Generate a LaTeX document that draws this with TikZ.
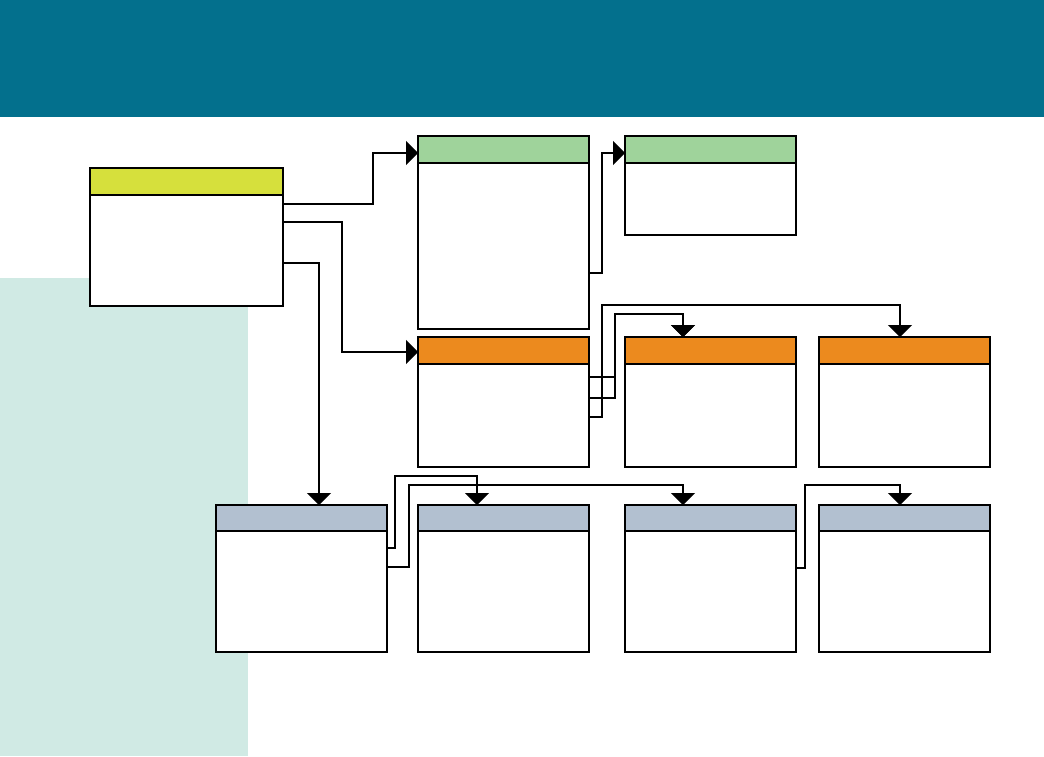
\documentclass[tikz,border=0pt]{standalone}
\usetikzlibrary{arrows.meta}
\definecolor{teal}{RGB}{3,112,141}
\definecolor{mint}{RGB}{208,234,228}
\definecolor{hyel}{RGB}{214,224,60}
\definecolor{hgrn}{RGB}{159,211,155}
\definecolor{horg}{RGB}{236,138,30}
\definecolor{hgry}{RGB}{178,192,208}
\tikzset{
  box/.style={draw=black, line width=1.8pt, fill=white, inner sep=0pt, outer sep=0pt, anchor=north west, minimum width=171pt},
  hdr/.style={draw=black, line width=1.8pt},
  conn/.style={draw=black, line width=1.5pt, -{Triangle[length=12pt,width=24pt]}},
  plain/.style={draw=black, line width=1.5pt},
}
\begin{document}
\begin{tikzpicture}[x=1pt,y=-1pt]
\useasboundingbox (0,0) rectangle (1044,756);
\fill[white] (0,0) rectangle (1044,756);
\fill[teal] (0,0) rectangle (1044,117);
\fill[mint] (0,278) rectangle (248,756);
% boxes
\node[box, minimum width=193pt, minimum height=138pt] (a) at (90,168) {};
\draw[hdr, fill=hyel] (a.north west) rectangle ([yshift=-27pt]a.north east);
\node[box, minimum height=193pt] (b1) at (418,136) {};
\draw[hdr, fill=hgrn] (b1.north west) rectangle ([yshift=-27pt]b1.north east);
\node[box, minimum height=99pt] (b2) at (625,136) {};
\draw[hdr, fill=hgrn] (b2.north west) rectangle ([yshift=-27pt]b2.north east);
\node[box, minimum height=130pt] (c1) at (418,337) {};
\draw[hdr, fill=horg] (c1.north west) rectangle ([yshift=-27pt]c1.north east);
\node[box, minimum height=130pt] (c2) at (625,337) {};
\draw[hdr, fill=horg] (c2.north west) rectangle ([yshift=-27pt]c2.north east);
\node[box, minimum height=130pt] (c3) at (819,337) {};
\draw[hdr, fill=horg] (c3.north west) rectangle ([yshift=-27pt]c3.north east);
\node[box, minimum height=147pt] (d1) at (216,505) {};
\draw[hdr, fill=hgry] (d1.north west) rectangle ([yshift=-26pt]d1.north east);
\node[box, minimum height=147pt] (d2) at (418,505) {};
\draw[hdr, fill=hgry] (d2.north west) rectangle ([yshift=-26pt]d2.north east);
\node[box, minimum height=147pt] (d3) at (625,505) {};
\draw[hdr, fill=hgry] (d3.north west) rectangle ([yshift=-26pt]d3.north east);
\node[box, minimum height=147pt] (d4) at (819,505) {};
\draw[hdr, fill=hgry] (d4.north west) rectangle ([yshift=-26pt]d4.north east);
% connectors
\draw[conn] ([yshift=-36pt]a.north east) -- ++(90,0) |- ([yshift=-17pt]b1.north west);
\draw[conn] ([yshift=-54pt]a.north east) -- ++(59,0) |- ([yshift=-15pt]c1.north west);
\draw[conn] ([yshift=-95pt]a.north east) -| ([xshift=17.5pt]d1.north);
\draw[conn] ([yshift=-137pt]b1.north east) -- ++(13,0) |- ([yshift=-17pt]b2.north west);
\draw[conn] ([yshift=-40pt]c1.north east) -- ++(26,0) -- ++(0,-63) -| ([xshift=-27.5pt]c2.north);
\draw[conn] ([yshift=-61pt]c1.north east) -- ++(26,0) -- ++(0,-84) -| ([xshift=-27.5pt]c2.north);
\draw[conn] ([yshift=-80pt]c1.north east) -- ++(13,0) -- ++(0,-112) -| ([xshift=-4.5pt]c3.north);
\draw[conn] ([yshift=-43pt]d1.north east) -- ++(8,0) -- ++(0,-72) -| ([xshift=-26.5pt]d2.north);
\draw[conn] ([yshift=-62pt]d1.north east) -- ++(22,0) -- ++(0,-82) -| ([xshift=-27.5pt]d3.north);
\draw[conn] ([yshift=-63pt]d3.north east) -- ++(9,0) -- ++(0,-83) -| ([xshift=-4.5pt]d4.north);
\end{tikzpicture}
\end{document}
